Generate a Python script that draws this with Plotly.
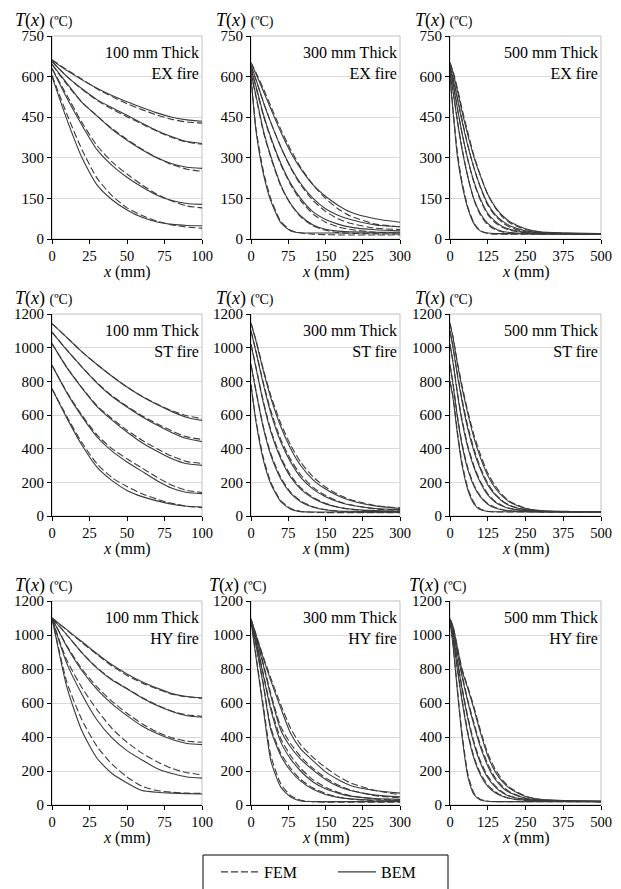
import plotly.graph_objects as go

# x grids (mm) for each slab thickness
X100 = [0, 10, 20, 30, 40, 50, 60, 70, 80, 90, 100]
X300 = [0, 10, 25, 40, 60, 80, 100, 125, 150, 175, 200, 250, 300]
X500 = [0, 10, 25, 40, 60, 80, 100, 125, 150, 175, 200, 250, 300, 400, 500]

# ---- EX fire ----
EX100_BEM = [
    [660, 622, 588, 557, 530, 507, 486, 466, 450, 440, 435],
    [655, 600, 555, 515, 485, 457, 428, 400, 378, 360, 353],
    [645, 575, 505, 455, 405, 365, 330, 300, 278, 265, 261],
    [630, 520, 420, 330, 272, 228, 192, 162, 142, 131, 128],
    [600, 440, 300, 200, 145, 107, 80, 63, 54, 50, 49],
]
EX100_FEM = [
    [662, 625, 590, 555, 526, 500, 478, 458, 442, 432, 428],
    [655, 600, 553, 512, 480, 452, 425, 398, 375, 358, 350],
    [645, 570, 505, 455, 408, 368, 332, 300, 275, 258, 250],
    [630, 530, 430, 345, 285, 240, 200, 165, 140, 122, 115],
    [605, 460, 330, 225, 160, 115, 87, 66, 52, 44, 40],
]
EX300_BEM = [
    [650, 610, 545, 480, 395, 320, 260, 200, 158, 125, 100, 75, 62],
    [640, 590, 505, 430, 340, 265, 205, 150, 112, 88, 72, 52, 45],
    [630, 565, 460, 375, 280, 205, 150, 100, 72, 55, 44, 34, 30],
    [615, 530, 400, 305, 200, 130, 85, 52, 36, 29, 27, 25, 25],
    [600, 400, 240, 140, 60, 30, 23, 22, 22, 22, 22, 22, 22],
]
EX300_FEM = [
    [652, 615, 555, 490, 405, 330, 265, 200, 150, 112, 85, 55, 45],
    [640, 588, 505, 430, 340, 262, 200, 142, 102, 75, 58, 40, 35],
    [630, 560, 455, 370, 275, 200, 142, 92, 62, 45, 35, 25, 22],
    [615, 525, 395, 300, 195, 128, 82, 48, 32, 24, 21, 19, 18],
    [600, 410, 250, 148, 65, 32, 22, 18, 16, 15, 15, 15, 15],
]
EX500_BEM = [
    [650, 615, 545, 470, 380, 300, 235, 165, 118, 85, 63, 38, 27, 22, 20],
    [640, 595, 515, 435, 340, 260, 195, 130, 90, 65, 48, 30, 24, 21, 20],
    [630, 575, 480, 390, 290, 210, 150, 95, 65, 45, 35, 25, 22, 20, 20],
    [615, 545, 430, 330, 225, 145, 95, 58, 38, 28, 24, 21, 20, 20, 20],
    [600, 470, 300, 200, 110, 55, 30, 22, 20, 20, 20, 20, 20, 20, 20],
]
EX500_FEM = [
    [652, 620, 555, 480, 390, 305, 238, 165, 115, 80, 58, 35, 25, 20, 18],
    [640, 598, 520, 440, 342, 260, 192, 125, 85, 60, 43, 27, 22, 19, 18],
    [630, 575, 480, 390, 288, 205, 145, 90, 60, 42, 32, 23, 20, 18, 18],
    [615, 548, 435, 335, 225, 142, 90, 52, 35, 26, 22, 19, 18, 18, 18],
    [600, 480, 315, 210, 115, 58, 30, 20, 18, 18, 18, 18, 18, 18, 18],
]

# ---- ST fire ----
ST100_BEM = [
    [1143, 1060, 975, 900, 830, 766, 710, 662, 620, 585, 568],
    [1093, 985, 885, 790, 710, 648, 590, 540, 495, 460, 442],
    [1024, 880, 760, 650, 570, 499, 435, 385, 340, 310, 301],
    [895, 730, 590, 470, 385, 321, 265, 210, 165, 140, 133],
    [756, 580, 420, 290, 210, 152, 115, 90, 70, 58, 53],
]
ST100_FEM = [
    [1143, 1060, 975, 900, 830, 766, 712, 665, 625, 595, 578],
    [1093, 985, 885, 792, 714, 652, 596, 548, 505, 470, 455],
    [1024, 882, 762, 655, 578, 510, 450, 400, 355, 323, 312],
    [895, 735, 598, 482, 400, 340, 285, 230, 182, 152, 140],
    [756, 590, 435, 310, 228, 175, 132, 100, 75, 58, 50],
]
ST300_BEM = [
    [1145, 1040, 860, 700, 530, 400, 300, 215, 160, 120, 92, 60, 45],
    [1100, 975, 780, 610, 440, 320, 230, 160, 115, 85, 65, 45, 38],
    [1020, 880, 670, 500, 340, 230, 160, 105, 72, 52, 42, 32, 30],
    [900, 740, 520, 360, 220, 135, 85, 52, 37, 30, 28, 27, 27],
    [780, 560, 330, 190, 85, 40, 26, 24, 24, 24, 24, 24, 24],
]
ST300_FEM = [
    [1145, 1045, 870, 715, 550, 420, 320, 232, 172, 128, 98, 62, 48],
    [1100, 980, 790, 625, 455, 335, 245, 170, 122, 88, 66, 42, 35],
    [1020, 885, 680, 510, 350, 240, 168, 110, 75, 53, 40, 28, 25],
    [900, 745, 530, 370, 228, 140, 90, 55, 38, 28, 24, 22, 22],
    [780, 570, 345, 200, 92, 45, 27, 22, 20, 20, 20, 20, 20],
]
ST500_BEM = [
    [1145, 1060, 900, 760, 600, 460, 350, 240, 165, 115, 80, 45, 32, 27, 25],
    [1100, 1000, 830, 680, 510, 380, 280, 185, 125, 85, 60, 38, 30, 26, 25],
    [1020, 910, 720, 560, 400, 285, 200, 125, 82, 58, 43, 32, 27, 25, 25],
    [900, 780, 580, 420, 270, 175, 115, 70, 47, 36, 31, 27, 25, 25, 25],
    [800, 700, 480, 300, 150, 70, 38, 27, 25, 25, 25, 25, 25, 25, 25],
]
ST500_FEM = [
    [1145, 1065, 910, 775, 615, 478, 368, 255, 178, 122, 85, 45, 30, 25, 24],
    [1100, 1005, 840, 695, 525, 395, 292, 195, 130, 88, 62, 36, 28, 24, 24],
    [1020, 915, 730, 572, 410, 295, 208, 132, 86, 60, 44, 30, 25, 24, 24],
    [900, 790, 590, 430, 280, 182, 120, 74, 50, 37, 30, 26, 24, 24, 24],
    [800, 710, 495, 315, 160, 78, 42, 28, 24, 24, 24, 24, 24, 24, 24],
]

# ---- HY fire ----
HY100_BEM = [
    [1100, 1030, 960, 890, 825, 771, 725, 688, 655, 638, 630],
    [1100, 1000, 895, 805, 735, 683, 630, 585, 550, 525, 516],
    [1100, 930, 790, 680, 595, 526, 465, 420, 385, 362, 355],
    [1095, 830, 650, 500, 395, 320, 265, 215, 185, 165, 158],
    [1100, 690, 435, 275, 185, 130, 85, 75, 70, 67, 65],
]
HY100_FEM = [
    [1100, 1028, 955, 885, 818, 762, 718, 683, 652, 636, 628],
    [1100, 1000, 895, 808, 738, 685, 632, 588, 552, 530, 522],
    [1100, 935, 800, 695, 610, 540, 478, 430, 395, 375, 369],
    [1095, 850, 690, 560, 450, 369, 305, 255, 215, 190, 178],
    [1100, 720, 500, 345, 240, 165, 110, 85, 75, 70, 68],
]
HY300_BEM = [
    [1095, 1000, 860, 730, 570, 420, 330, 260, 195, 150, 115, 85, 70],
    [1090, 985, 820, 640, 440, 340, 270, 205, 150, 110, 85, 58, 48],
    [1090, 965, 760, 560, 370, 270, 200, 135, 95, 70, 52, 38, 33],
    [1085, 940, 700, 440, 290, 200, 140, 92, 62, 45, 36, 29, 27],
    [1085, 870, 560, 260, 105, 47, 24, 20, 20, 20, 20, 20, 20],
]
HY300_FEM = [
    [1095, 1005, 870, 745, 590, 450, 355, 280, 220, 170, 130, 85, 60],
    [1090, 990, 830, 655, 460, 360, 285, 215, 160, 118, 88, 55, 42],
    [1090, 970, 770, 575, 390, 290, 215, 148, 105, 75, 55, 35, 28],
    [1085, 945, 710, 455, 305, 215, 150, 100, 68, 47, 35, 25, 22],
    [1085, 880, 580, 290, 125, 55, 28, 19, 17, 17, 17, 17, 17],
]
HY500_BEM = [
    [1095, 1050, 920, 790, 680, 560, 430, 290, 195, 135, 95, 50, 33, 25, 22],
    [1090, 1030, 890, 755, 600, 465, 345, 230, 150, 100, 70, 40, 29, 24, 22],
    [1090, 1010, 840, 680, 500, 355, 250, 160, 105, 70, 50, 33, 26, 23, 22],
    [1085, 985, 790, 610, 410, 270, 180, 110, 72, 50, 38, 28, 24, 22, 22],
    [1085, 940, 660, 400, 160, 60, 30, 22, 20, 20, 20, 20, 20, 20, 20],
]
HY500_FEM = [
    [1095, 1052, 925, 800, 690, 572, 445, 305, 210, 145, 100, 52, 32, 22, 20],
    [1090, 1032, 895, 765, 610, 478, 358, 242, 160, 108, 75, 40, 27, 21, 20],
    [1090, 1012, 848, 692, 512, 368, 262, 170, 112, 75, 52, 32, 24, 21, 20],
    [1085, 988, 800, 622, 422, 280, 190, 118, 78, 52, 38, 26, 22, 20, 20],
    [1085, 945, 675, 420, 175, 68, 34, 22, 19, 19, 19, 19, 19, 19, 19],
]

FIRES = ["EX", "ST", "HY"]
THICKS = [100, 300, 500]
XGRID = {100: X100, 300: X300, 500: X500}
YMAX = {"EX": 750, "ST": 1200, "HY": 1200}
YSTEP = {"EX": 150, "ST": 200, "HY": 200}
DATA = {
    ("EX", 100): (EX100_BEM, EX100_FEM), ("EX", 300): (EX300_BEM, EX300_FEM), ("EX", 500): (EX500_BEM, EX500_FEM),
    ("ST", 100): (ST100_BEM, ST100_FEM), ("ST", 300): (ST300_BEM, ST300_FEM), ("ST", 500): (ST500_BEM, ST500_FEM),
    ("HY", 100): (HY100_BEM, HY100_FEM), ("HY", 300): (HY300_BEM, HY300_FEM), ("HY", 500): (HY500_BEM, HY500_FEM),
}

W, H = 621, 889
OFF = 8  # page body margin: the figure is drawn 8px right/down of the window corner
FONT = "Liberation Serif"
LINE = "#3a3a3a"
COL_PX = [(52, 202), (251, 400), (450, 601)]
ROW_PX = [(36, 239), (314, 516), (601, 805)]
TLABEL_X = [[13, 214, 413], [13, 214, 413], [13, 207, 407]]


def fx(px):
    return (px - OFF) / W


def fy(py):
    return 1 - (py - OFF) / H


fig = go.Figure()
annotations = []
shapes = []

for r, fire in enumerate(FIRES):
    for c, thick in enumerate(THICKS):
        i = r * 3 + c + 1
        sfx = "" if i == 1 else str(i)
        xs = XGRID[thick]
        bem, fem = DATA[(fire, thick)]
        for k, ys in enumerate(fem):
            fig.add_trace(go.Scatter(
                x=xs, y=ys, mode="lines", name="FEM", legendgroup="FEM", legendrank=1,
                showlegend=(i == 1 and k == 0),
                line=dict(color=LINE, width=1.1, dash="7px,3px", shape="spline", smoothing=0.6),
                xaxis=f"x{sfx}", yaxis=f"y{sfx}", hoverinfo="skip"))
        for k, ys in enumerate(bem):
            fig.add_trace(go.Scatter(
                x=xs, y=ys, mode="lines", name="BEM", legendgroup="BEM", legendrank=2,
                showlegend=(i == 1 and k == 0),
                line=dict(color=LINE, width=1.1, shape="spline", smoothing=0.6),
                xaxis=f"x{sfx}", yaxis=f"y{sfx}", hoverinfo="skip"))

        x0, x1 = COL_PX[c]
        y0, y1 = ROW_PX[r]
        fig.layout[f"xaxis{sfx}"] = dict(
            domain=[fx(x0), fx(x1)], anchor=f"y{sfx}", range=[0, thick], tick0=0, dtick=thick / 4,
            showline=True, linecolor="black", linewidth=1, ticks="outside", ticklen=4,
            tickcolor="black", showgrid=False, zeroline=False, automargin=False,
            tickfont=dict(family=FONT, size=14.5, color="black"))
        fig.layout[f"yaxis{sfx}"] = dict(
            domain=[fy(y1), fy(y0)], anchor=f"x{sfx}", range=[0, YMAX[fire]], tick0=0,
            dtick=YSTEP[fire], showline=True, linecolor="black", linewidth=1, ticks="outside",
            ticklen=4, tickcolor="black", showgrid=True, gridcolor="#d9d9d9", gridwidth=1,
            zeroline=False, automargin=False, tickfont=dict(family=FONT, size=15, color="black"))

        # light grey frame of the plot area
        shapes.append(dict(type="rect", xref=f"x{sfx} domain", yref=f"y{sfx} domain",
                           x0=0, x1=1, y0=0, y1=1, line=dict(color="#c0c0c0", width=1), layer="below"))

        # panel label
        annotations.append(dict(
            x=fx(x1 - 1), y=fy(y0 + 27), xref="paper", yref="paper",
            xanchor="right", yanchor="middle", align="right", showarrow=False,
            text=f"{thick} mm Thick<br>{fire} fire", font=dict(family=FONT, size=16, color="black")))
        # y axis title
        annotations.append(dict(
            x=fx(TLABEL_X[r][c]), y=fy(y0 - 16), xref="paper", yref="paper",
            xanchor="left", yanchor="middle", showarrow=False,
            text="<i>T</i>(<i>x</i>) <span style='font-size:14px'>(ºC)</span>",
            font=dict(family=FONT, size=18, color="black")))
        # x axis title
        annotations.append(dict(
            x=fx((x0 + x1) / 2), y=fy(y1 + 33), xref="paper", yref="paper",
            xanchor="center", yanchor="middle", showarrow=False,
            text="<i>x</i> (mm)", font=dict(family=FONT, size=16, color="black")))

# legend frame
shapes.append(dict(type="rect", xref="paper", yref="paper", x0=fx(203), x1=fx(448),
                   y0=-0.05, y1=fy(855), line=dict(color="black", width=1)))

fig.update_layout(
    width=W, height=H,
    margin=dict(l=0, r=0, t=0, b=0),
    paper_bgcolor="white", plot_bgcolor="white",
    font=dict(family=FONT, size=15, color="black"),
    shapes=shapes, annotations=annotations,
    showlegend=True,
    legend=dict(orientation="h", x=fx(216), y=fy(872), xanchor="left", yanchor="middle",
                bgcolor="rgba(0,0,0,0)", borderwidth=0, itemwidth=38,
                entrywidth=64, entrywidthmode="pixels",
                font=dict(family=FONT, size=16, color="black")),
)

fig.write_html("out.html")
